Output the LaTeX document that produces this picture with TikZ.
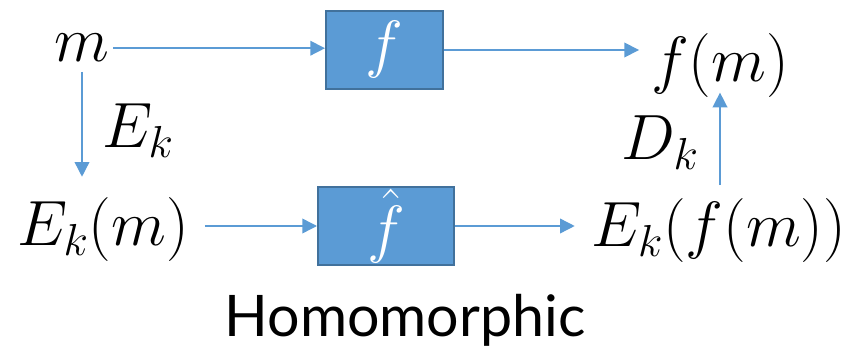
\RequirePackage{fix-cm}
\documentclass[tikz,border=0pt]{standalone}
\usepackage{fontspec}
\setsansfont{Lato}
\usetikzlibrary{arrows.meta}
\definecolor{boxfill}{HTML}{5B9BD5}
\definecolor{boxline}{HTML}{41719C}
\definecolor{arrowc}{HTML}{5B9BD5}
\tikzset{
  mathlbl/.style={inner sep=0pt, outer sep=0pt, anchor=base, font=\fontsize{48}{56}\selectfont},
  opbox/.style={draw=boxline, line width=1.5pt, fill=boxfill, text=white, inner sep=0pt,
    minimum height=58.5pt, font=\fontsize{48}{56}\selectfont},
  arr/.style={draw=arrowc, line width=1.1pt, -{Triangle[length=11pt,width=11pt]}},
  caption/.style={inner sep=0pt, anchor=base, font=\sffamily\fontsize{43}{50}\selectfont}
}
\begin{document}
\begin{tikzpicture}[x=0.75pt,y=-0.75pt]
\useasboundingbox (0,0) rectangle (858,356);
\node[mathlbl] (m) at (82,62) {$m$};
\node[opbox, minimum width=87.75pt] (fbox) at (384.5,50) {$f$};
\node[mathlbl] (fm) at (720,82) {$f(m)$};
\node[mathlbl] (Ekm) at (103,246) {$E_k(m)$};
\node[opbox, minimum width=102pt] (fhat) at (386,226) {$\skew{3}{\hat}{f}$};
\node[mathlbl] (Ekfm) at (719,247) {$E_k(f(m))$};
\node[mathlbl] (Ek) at (138,148) {$E_k$};
\node[mathlbl] (Dk) at (660,160) {$D_k$};
\node[caption] (cap) at (405,337) {Homomorphic};
\draw[arr, shorten <=3pt] (m.east) -- (m.east -| fbox.west);
\draw[arr, shorten >=9pt] (fbox.east) -- (fbox.east -| fm.west);
\draw[arr, shorten <=7.5pt, shorten >=16pt] (m.south) -- (m.south |- Ekm.north);
\draw[arr, shorten <=12pt] (fhat.west -| Ekm.east) -- (fhat.west);
\draw[arr, shorten >=12.75pt] (fhat.east) -- (fhat.east -| Ekfm.west);
\draw[arr, shorten <=10.5pt, shorten >=-4pt] (Ekfm.north -| fm.south) -- (fm.south);
\end{tikzpicture}
\end{document}
